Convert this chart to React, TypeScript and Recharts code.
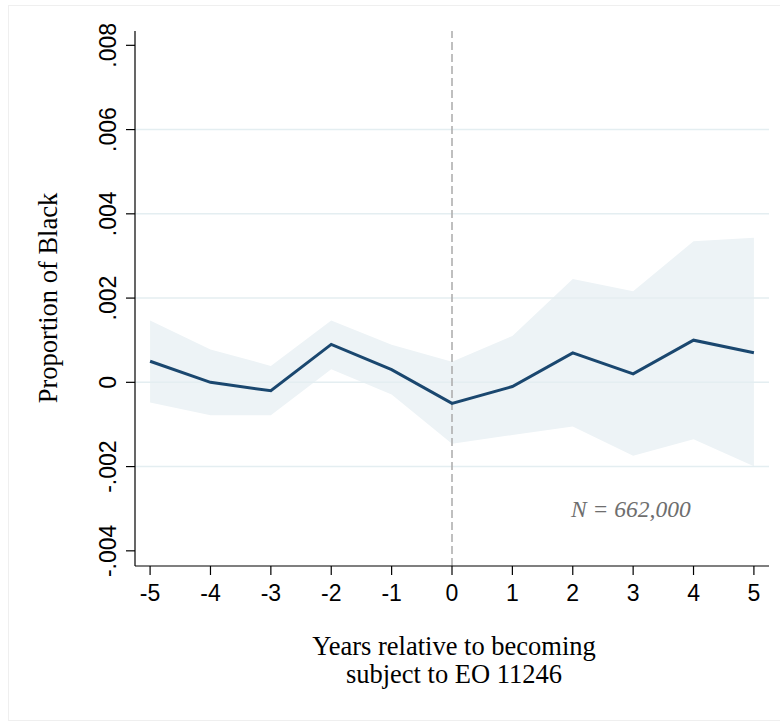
import { ComposedChart, Area, Line, XAxis, YAxis, ReferenceLine } from "recharts"

const YEARS = [-5, -4, -3, -2, -1, 0, 1, 2, 3, 4, 5]
const ESTIMATE = [0.0005, 0.0, -0.0002, 0.0009, 0.0003, -0.0005, -0.0001, 0.0007, 0.0002, 0.001, 0.0007]
const CI_UPPER = [0.00147, 0.00078, 0.00039, 0.00147, 0.00089, 0.00049, 0.0011, 0.00245, 0.00216, 0.00335, 0.00343]
const CI_LOWER = [-0.00048, -0.00078, -0.00078, 0.00031, -0.00029, -0.00146, -0.00125, -0.00105, -0.00174, -0.00135, -0.00199]

const Y_TICKS = [-0.004, -0.002, 0, 0.002, 0.004, 0.006, 0.008]
const GRID_VALUES = [-0.002, 0, 0.002, 0.004, 0.006]

const SANS = "'Liberation Sans', Arial, Helvetica, sans-serif"
const SERIF = "'Liberation Serif', 'Times New Roman', serif"

const NAVY = "#1a476f"
const BAND = "#edf3f6"

const data = YEARS.map((year, i) => ({
  year,
  est: ESTIMATE[i],
  ci: [CI_LOWER[i], CI_UPPER[i]],
}))

function fmtY(v: number) {
  if (Math.abs(v) < 1e-12) return "0"
  const s = v.toFixed(3)
  return s.replace("0.", ".")
}

function YTick({ x, y, payload }: { x?: number; y?: number; payload?: { value: number } }) {
  const bx = (x ?? 0) - 10
  return (
    <text
      x={bx}
      y={y}
      transform={`rotate(-90 ${bx} ${y})`}
      textAnchor="middle"
      fontFamily={SANS}
      fontSize={23}
      fill="#000"
    >
      {fmtY(payload?.value ?? 0)}
    </text>
  )
}

export default function App() {
  return (
    <div style={{ position: "fixed", left: 0, top: 0, width: 780, height: 721, overflow: "hidden", background: "#fff" }}>
      <div style={{ position: "absolute", left: 8, top: 5, width: 800, height: 714, border: "1px solid #efefef" }} />
      <div style={{ position: "absolute", left: 0, top: 0 }}>
        <ComposedChart width={780} height={721} data={data} margin={{ top: 31, right: 11, left: 0, bottom: 0 }}>
          <Area
            dataKey="ci"
            type="linear"
            stroke="none"
            fill={BAND}
            fillOpacity={1}
            isAnimationActive={false}
            activeDot={false}
          />
          {GRID_VALUES.map((v) => (
            <ReferenceLine key={v} y={v} stroke="#e4eef1" strokeWidth={1.5} />
          ))}
          <ReferenceLine x={0} stroke="#aaaaaa" strokeWidth={1.5} strokeDasharray="8 4" />
          <Line
            dataKey="est"
            type="linear"
            stroke={NAVY}
            strokeWidth={3}
            dot={false}
            activeDot={false}
            isAnimationActive={false}
          />
          <XAxis
            dataKey="year"
            type="number"
            domain={[-5.25, 5.25]}
            ticks={YEARS}
            height={155}
            tickSize={9}
            tickMargin={10}
            axisLine={{ stroke: "#000", strokeWidth: 1.2 }}
            tickLine={{ stroke: "#000", strokeWidth: 1.2 }}
            tick={{ fill: "#000", fontSize: 23, fontFamily: SANS }}
            interval={0}
          />
          <YAxis
            type="number"
            domain={[-0.00436, 0.00834]}
            ticks={Y_TICKS}
            width={135}
            tickSize={9}
            tickMargin={0}
            axisLine={{ stroke: "#000", strokeWidth: 1.2 }}
            tickLine={{ stroke: "#000", strokeWidth: 1.2 }}
            tick={<YTick />}
            interval={0}
            allowDataOverflow
          />
        </ComposedChart>
      </div>
      <svg width={780} height={721} style={{ position: "absolute", left: 0, top: 0, pointerEvents: "none" }}>
        <text x={57} y={298} transform="rotate(-90 57 298)" textAnchor="middle" fontFamily={SERIF} fontSize={26.5} fill="#000">
          Proportion of Black
        </text>
        <text x={454} y={655} textAnchor="middle" fontFamily={SERIF} fontSize={26.5} fill="#000">
          Years relative to becoming
        </text>
        <text x={454} y={683} textAnchor="middle" fontFamily={SERIF} fontSize={26.5} fill="#000">
          subject to EO 11246
        </text>
        <text x={571} y={517} fontFamily={SERIF} fontStyle="italic" fontSize={23.5} fill="#6e6e6e">
          N = 662,000
        </text>
      </svg>
    </div>
  )
}
